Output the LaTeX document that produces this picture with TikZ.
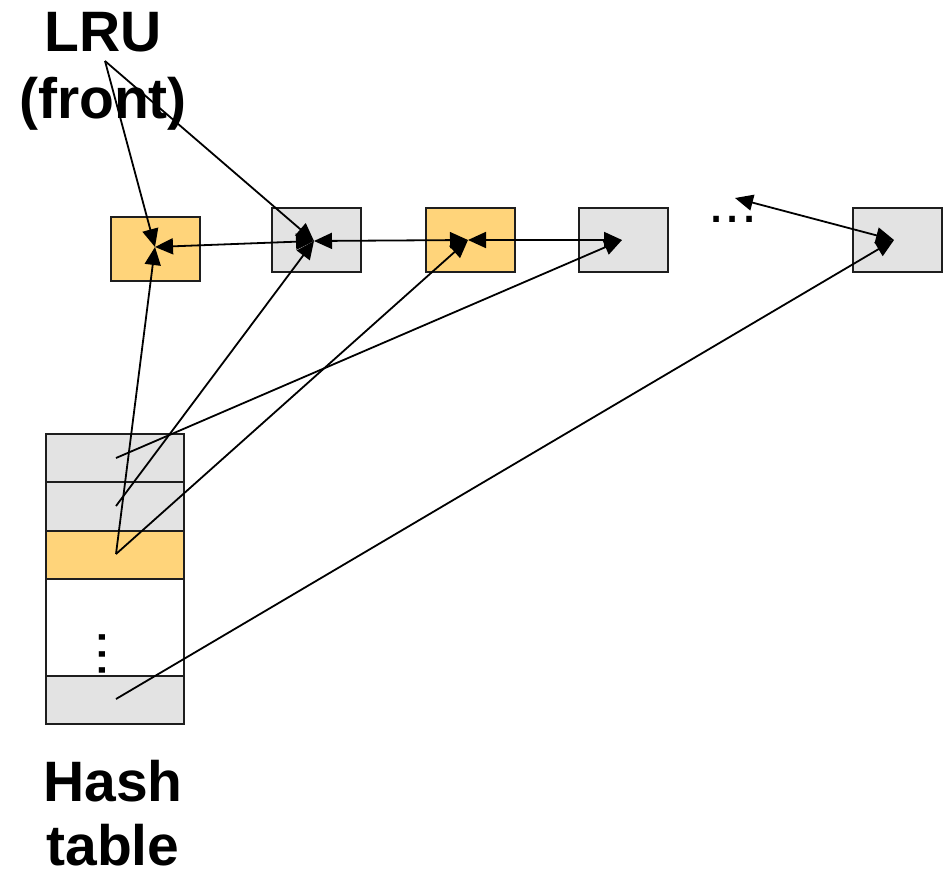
\documentclass[tikz,border=0pt]{standalone}
\usepackage{fontspec}
\setmainfont{Liberation Sans}
\usetikzlibrary{arrows.meta}
\definecolor{boxgray}{RGB}{227,227,227}
\definecolor{boxyel}{RGB}{255,212,122}
\definecolor{edgec}{RGB}{30,30,30}
\begin{document}
\begin{tikzpicture}[x=1pt,y=-1pt,
  cell/.style={draw=edgec,line width=2pt,inner sep=0pt,outer sep=0pt},
  lnode/.style={cell,minimum width=89pt,minimum height=64pt},
  hrow/.style={cell,minimum width=138pt},
  ptr/.style={line width=1.8pt,-{Triangle[length=18pt,width=16pt]}},
  dptr/.style={line width=1.8pt,{Triangle[length=18pt,width=16pt]}-{Triangle[length=18pt,width=16pt]}},
  big/.style={font=\fontsize{57}{66}\selectfont\bfseries,inner sep=0pt,anchor=base},
  dots/.style={font=\fontsize{58}{60}\selectfont,inner sep=0pt,anchor=base}
]
\useasboundingbox (0,0) rectangle (949,872);

% labels
\node[big] (lru) at (103,52) {LRU};
\node[big] (front) at (103,118) {(front)};
\node[big] (hash) at (113,801) {Hash};
\node[big] (table) at (113,865) {table};

% list nodes
\node[lnode,fill=boxyel]  (b1) at (155.5,248.5) {};
\node[lnode,fill=boxgray] (b2) at (316.5,240) {};
\node[lnode,fill=boxyel]  (b3) at (470,240) {};
\node[lnode,fill=boxgray] (b4) at (623.5,240) {};
\node[lnode,fill=boxgray] (b5) at (897,240) {};
\node[dots] (hd) at (733,222) {...};

% hash table
\node[hrow,fill=boxgray,minimum height=48pt] (r1) at (115,458) {};
\node[hrow,fill=boxgray,minimum height=49pt] (r2) at (115,506.5) {};
\node[hrow,fill=boxyel,minimum height=48pt]  (r3) at (115,555) {};
\node[hrow,fill=white,minimum height=97pt]   (r4) at (115,627.5) {};
\node[hrow,fill=boxgray,minimum height=48pt] (r5) at (115,700) {};
\node[dots,rotate=90] (vd) at (105,654) {...};

% pointer points
\coordinate (lp) at (105,61);
\coordinate (j1) at (155,247);
\coordinate (j2) at (314,241);
\coordinate (j3) at (468,240);
\coordinate (j4) at (622,240);
\coordinate (j5) at (894,240);
\coordinate (de) at (735,198);
\coordinate (h1) at (116,458);
\coordinate (h2) at (116,506);
\coordinate (h3) at (116,554);
\coordinate (h5) at (116,699);

% connectors
\draw[ptr] (lp) -- (j1);
\draw[ptr] (lp) -- (j2);
\draw[dptr] (j2) -- (j1);
\draw[dptr] (j2) -- (j3);
\draw[dptr] (j3) -- (j4);
\draw[dptr] (j5) -- (de);
\draw[ptr] (h1) -- (j4);
\draw[ptr] (h2) -- (j2);
\draw[ptr] (h3) -- (j1);
\draw[ptr] (h3) -- (j3);
\draw[ptr] (h5) -- (j5);
\end{tikzpicture}
\end{document}
